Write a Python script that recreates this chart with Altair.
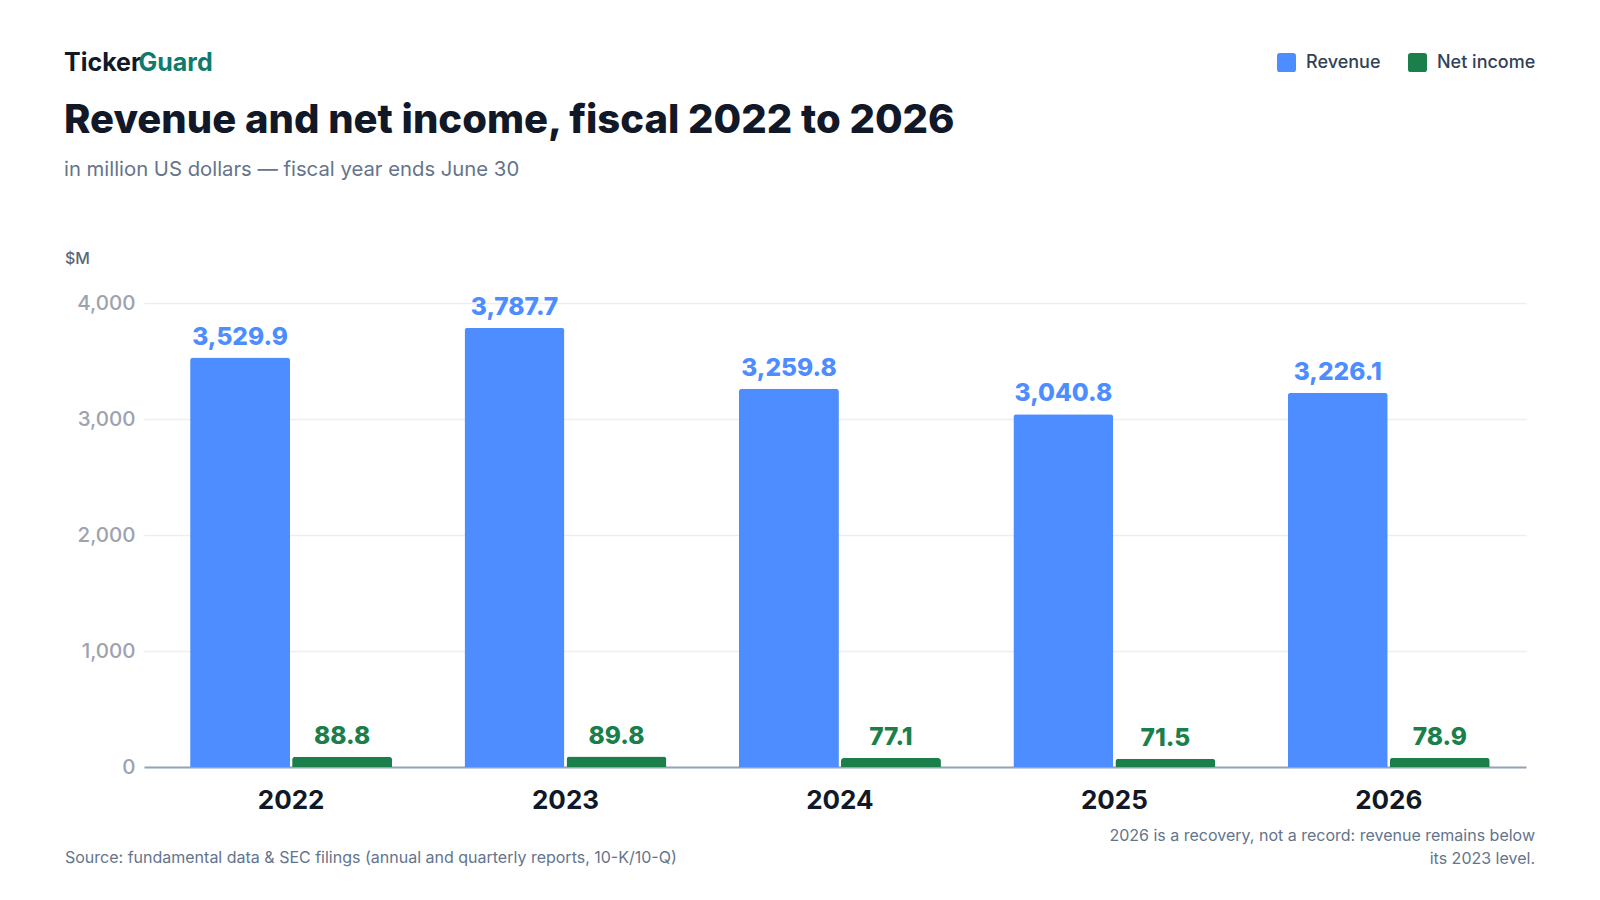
import altair as alt
import pandas as pd

# ---- data ----
years = ["2022", "2023", "2024", "2025", "2026"]
revenue = [3529.9, 3787.7, 3259.8, 3040.8, 3226.1]
net_income = [88.8, 89.8, 77.1, 71.5, 78.9]
series_names = ["Revenue", "Net income"]
series_colors = ["#4d8dff", "#1b7f4b"]
y_ticks = [0, 1000, 2000, 3000, 4000]

brand_left = "Ticker"
brand_right = "Guard"
title_text = "Revenue and net income, fiscal 2022 to 2026"
subtitle_text = "in million US dollars \u2014 fiscal year ends June 30"
unit_text = "$M"
source_text = "Source: fundamental data & SEC filings (annual and quarterly reports, 10-K/10-Q)"
note_lines = ["2026 is a recovery, not a record: revenue remains below", "its 2023 level."]

rows = []
for yr, r, n in zip(years, revenue, net_income):
    rows.append({"year": yr, "series": "Revenue", "value": r})
    rows.append({"year": yr, "series": "Net income", "value": n})
df = pd.DataFrame(rows)
df["label"] = df["value"].map(lambda v: f"{v:,.1f}")

FONT = "Inter"
rounded_square = ("M-0.7,-1 L0.7,-1 Q1,-1 1,-0.7 L1,0.7 Q1,1 0.7,1 L-0.7,1 "
                  "Q-1,1 -1,0.7 L-1,-0.7 Q-1,-1 -0.7,-1 Z")

x_enc = alt.X(
    "year:N", sort=years,
    scale=alt.Scale(paddingInner=0.264, paddingOuter=0.15, align=0.56),
    axis=alt.Axis(title=None, labelAngle=0, labelFontSize=26, labelFontWeight="bold",
                  labelColor="#111827", labelPadding=20, ticks=False,
                  domainColor="#94a3b8", domainWidth=2, grid=False, labelFont=FONT),
)
y_enc = alt.Y(
    "value:Q",
    scale=alt.Scale(domain=[0, 4000], nice=False),
    axis=alt.Axis(title=None, values=y_ticks, format=",.0f", labelFontSize=20.5,
                  labelFontWeight=500,
                  labelColor="#9ca3af", labelPadding=9, ticks=False, domain=False,
                  gridColor="#eceef2", gridWidth=1.5, labelFont=FONT),
)
xo_enc = alt.XOffset("series:N", sort=series_names,
                     scale=alt.Scale(domain=series_names, paddingInner=0.02, paddingOuter=0))
color_scale = alt.Scale(domain=series_names, range=series_colors)

bars = alt.Chart(df).mark_bar(cornerRadiusTopLeft=3, cornerRadiusTopRight=3).encode(
    x=x_enc, y=y_enc, xOffset=xo_enc,
    color=alt.Color("series:N", scale=color_scale, legend=alt.Legend(
        title=None, orient="none", legendX=1133, legendY=-250, direction="horizontal",
        symbolType=rounded_square, symbolSize=361, symbolStrokeWidth=0,
        labelFontSize=18, labelColor="#334155", labelOffset=10, columnPadding=27,
        padding=0, labelFont=FONT, labelFontWeight=500)),
)

labels = alt.Chart(df).mark_text(dy=-13, baseline="alphabetic", fontSize=24.5,
                                 fontWeight=800, font=FONT).encode(
    x=x_enc, y=y_enc, xOffset=xo_enc, text="label:N",
    color=alt.Color("series:N", scale=color_scale, legend=None),
)


def note(text, x, y, size, color, weight="normal", align="left"):
    return alt.Chart(pd.DataFrame({"t": [text]})).mark_text(
        align=align, baseline="alphabetic", fontSize=size, fontWeight=weight,
        color=color, font=FONT,
    ).encode(x=alt.value(x), y=alt.value(y), text="t:N")


annotations = [
    note(brand_left, -80, -232, 25, "#111827", "bold"),
    note(brand_right, -5.5, -232, 25, "#0f7b6c", "bold"),
    note(title_text, -80, -170, 40, "#111827", 800),
    note(subtitle_text, -80, -127, 20.3, "#64748b"),
    note(unit_text, -79, -38.7, 16, "#5b6577", 500),
    note(source_text, -79, 560, 16, "#64748b"),
    note(note_lines[0], 1391, 538, 16, "#64748b", align="right"),
    note(note_lines[1], 1391, 561, 16, "#64748b", align="right"),
]

chart = alt.layer(bars, labels, *annotations).properties(
    width=1382, height=464,
    autosize=alt.AutoSizeParams(type="none"),
    padding={"left": 136, "top": 295, "right": 58, "bottom": 110},
).configure(font=FONT).configure_view(stroke=None)

chart.save("out.html", embed_options={"renderer": "svg", "actions": False})
